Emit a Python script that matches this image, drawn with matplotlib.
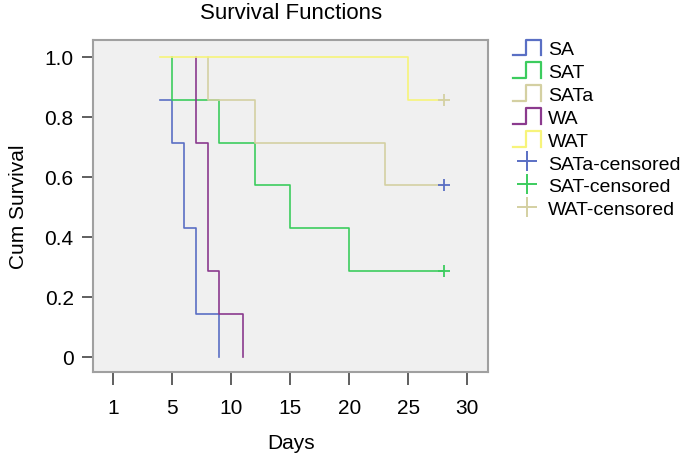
import numpy as np
import matplotlib
matplotlib.use('Agg')
import matplotlib.pyplot as plt
from matplotlib.legend_handler import HandlerBase
from matplotlib.lines import Line2D

plt.rcParams['font.family'] = ['Liberation Sans', 'DejaVu Sans']

# Kaplan-Meier step curves (days, cumulative survival)
sa_t = [4, 5, 6, 7, 9]
sa_s = [0.857, 0.714, 0.429, 0.143, 0.0]
sat_t = [5, 5, 9, 12, 15, 20, 28]
sat_s = [1.0, 0.857, 0.714, 0.571, 0.429, 0.286, 0.286]
sata_t = [8, 8, 12, 23, 28]
sata_s = [1.0, 0.857, 0.714, 0.571, 0.571]
wa_t = [7, 7, 8, 9, 11]
wa_s = [1.0, 0.714, 0.286, 0.143, 0.0]
wat_t = [4, 25, 28]
wat_s = [1.0, 0.857, 0.857]

# censored points
cens_labels = ['SATa-censored', 'SAT-censored', 'WAT-censored']
cens_t = [28, 28, 28]
cens_s = [0.571, 0.286, 0.857]

x_ticks = [0, 5, 10, 15, 20, 25, 30]
x_ticklabels = ['1', '5', '10', '15', '20', '25', '30']
y_ticks = [0, 0.2, 0.4, 0.6, 0.8, 1.0]
y_ticklabels = ['0', '0.2', '0.4', '0.6', '0.8', '1.0']

c_blue = '#5a6fc4'
c_green = '#3ccc5e'
c_tan = '#d4d0a2'
c_purple = '#8b3a8e'
c_yellow = '#f7f47a'

curves = [('SA', sa_t, sa_s, c_blue),
          ('SAT', sat_t, sat_s, c_green),
          ('SATa', sata_t, sata_s, c_tan),
          ('WA', wa_t, wa_s, c_purple),
          ('WAT', wat_t, wat_s, c_yellow)]
cens_colors = [c_blue, c_green, c_tan]


class StepHandler(HandlerBase):
    # little step icon like SPSS legend
    def create_artists(self, legend, orig_handle, xdescent, ydescent,
                       width, height, fontsize, trans):
        xs = np.array([0, 0.45, 0.45, 1, 1]) * width - xdescent
        ys = np.array([0, 0, 1, 1, 0]) * height - ydescent
        ln = Line2D(xs, ys, color=orig_handle.get_color(), lw=1.6)
        ln.set_transform(trans)
        return [ln]


fig = plt.figure(figsize=(6.85, 4.56), dpi=100)
ax = fig.add_axes([0.136, 0.182, 0.577, 0.728])
ax.set_facecolor('#f0f0f0')

handles = []
for name, t, s, col in curves:
    ln, = ax.step(t, s, where='post', color=col, lw=1.2)
    handles.append(ln)

# yellow on top like the original
handles[4].set_zorder(3)

cens_handles = []
for lab, t, s, col in zip(cens_labels, cens_t, cens_s, cens_colors):
    ax.plot(t, s, marker='+', color=col, ms=8, mew=1.3, ls='none', zorder=4)
    cens_handles.append(Line2D([], [], marker='+', color=col, ms=14, mew=1.4, ls='none'))

ax.set_xlim(-1.7, 31.8)
ax.set_ylim(-0.051, 1.056)
ax.set_xticks(x_ticks, labels=x_ticklabels)
ax.set_yticks(y_ticks, labels=y_ticklabels)
ax.tick_params(direction='out', width=1.2, color='#444444', labelsize=15)
ax.tick_params(axis='y', length=8, pad=6)
ax.tick_params(axis='x', length=9, pad=10)
for sp in ax.spines.values():
    sp.set_color('#a0a0a0')
    sp.set_linewidth(1.5)

ax.set_xlabel('Days', fontsize=15, labelpad=11)
ax.set_ylabel('Cum Survival', fontsize=15, labelpad=12)
ax.set_title('Survival Functions', fontsize=16, pad=16)

leg_h = handles + cens_handles
leg_l = [c[0] for c in curves] + cens_labels
hmap = {h: StepHandler() for h in handles}
fig.legend(leg_h, leg_l, handler_map=hmap, loc='upper left',
           bbox_to_anchor=(0.738, 0.928), frameon=False, fontsize=14,
           handlelength=1.4, handleheight=0.87, handletextpad=0.4,
           labelspacing=0.22, borderaxespad=0)

fig.savefig('out.png', dpi=100)
